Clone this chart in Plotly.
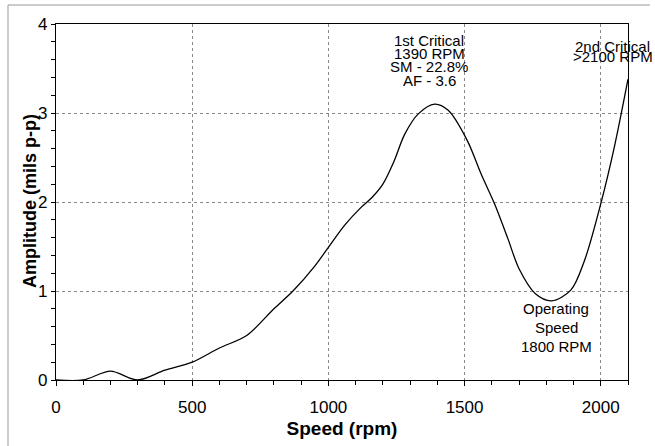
import plotly.graph_objects as go

speed = [0, 100, 200, 300, 400, 500, 600, 700, 800, 870, 950, 1000, 1060, 1120, 1160,
         1200, 1240, 1280, 1330, 1390, 1440, 1510, 1560, 1610, 1660, 1700, 1760, 1820,
         1890, 1940, 2000, 2050, 2100]
amplitude = [0, 0, 0.1, 0, 0.11, 0.2, 0.36, 0.5, 0.8, 1.0, 1.28, 1.49, 1.74, 1.94, 2.05,
             2.2, 2.45, 2.76, 2.99, 3.1, 3.03, 2.69, 2.32, 1.98, 1.58, 1.25, 0.97, 0.89,
             1.01, 1.34, 1.98, 2.62, 3.38]

x_ticks = [0, 500, 1000, 1500, 2000]
y_ticks = [0, 1, 2, 3, 4]

notes = [
    ("1st Critical", 1370, 3.81),
    ("1390 RPM", 1370, 3.667),
    ("SM - 22.8%", 1370, 3.517),
    ("AF - 3.6", 1370, 3.367),
    ("2nd Critical", 2044, 3.75),
    (">2100 RPM", 2044, 3.63),
    ("Operating", 1837, 0.80),
    ("Speed", 1837, 0.589),
    ("1800 RPM", 1837, 0.379),
]

FONT = "Liberation Sans, Arial, sans-serif"

fig = go.Figure()
fig.add_trace(go.Scatter(x=speed, y=amplitude, mode="lines",
                         line=dict(color="black", width=1.3, shape="spline", smoothing=0.9),
                         hoverinfo="skip", showlegend=False))

for txt, xx, yy in notes:
    fig.add_annotation(x=xx, y=yy, text=txt, showarrow=False, xanchor="center",
                       yanchor="middle", borderpad=0,
                       font=dict(family=FONT, size=15, color="black"))

L, R, T, B = 56, 27, 24, 66
W, H = 655, 446
pw = W - L - R
ph = H - T - B

# y-axis title placed as rotated text
fig.add_annotation(xref="paper", yref="paper", x=(30 - L) / pw, y=0.503,
                   text="<b>Amplitude (mils p-p)</b>", textangle=-90, showarrow=False,
                   xanchor="center", yanchor="middle",
                   font=dict(family=FONT, size=18, color="black"))

# outer frame (top and left edges visible in the reference)
fig.add_shape(type="line", xref="paper", yref="paper",
              x0=(8 - L) / pw, x1=(650 - L) / pw,
              y0=1 + (T - 5) / ph, y1=1 + (T - 5) / ph,
              line=dict(color="#999999", width=1), layer="below")
fig.add_shape(type="line", xref="paper", yref="paper",
              x0=(8 - L) / pw, x1=(8 - L) / pw,
              y0=-(B + 2) / ph, y1=1 + (T - 5) / ph,
              line=dict(color="#999999", width=1), layer="below")

fig.update_layout(
    width=W, height=H,
    margin=dict(l=L, r=R, t=T, b=B, autoexpand=False),
    paper_bgcolor="white", plot_bgcolor="white",
    font=dict(family=FONT, color="black"),
    xaxis=dict(range=[0, 2100], tickvals=x_ticks, ticks="outside", ticklen=5,
               tickcolor="black", showline=True, linecolor="black", linewidth=1.2,
               mirror=True, showgrid=True, gridcolor="#888888", griddash="dot",
               gridwidth=1, zeroline=False, tickfont=dict(size=17),
               ticklabelstandoff=6, automargin=False,
               minor=dict(dtick=100, ticks="outside", ticklen=4, tickcolor="black",
                          showgrid=False),
               title=dict(text="<b>Speed (rpm)</b>", font=dict(size=19), standoff=6)),
    yaxis=dict(range=[0, 4], tickvals=y_ticks, ticks="outside", ticklen=4,
               tickcolor="black", showline=True, linecolor="black", linewidth=1.2,
               mirror=True, showgrid=True, gridcolor="#888888", griddash="dot",
               gridwidth=1, zeroline=False, tickfont=dict(size=17), automargin=False,
               minor=dict(dtick=0.2, ticks="outside", ticklen=4, tickcolor="black",
                          showgrid=False)),
)

fig.write_html("out.html", config={"displayModeBar": False},
               post_script="document.body.style.margin='0';document.body.style.overflow='hidden';")
